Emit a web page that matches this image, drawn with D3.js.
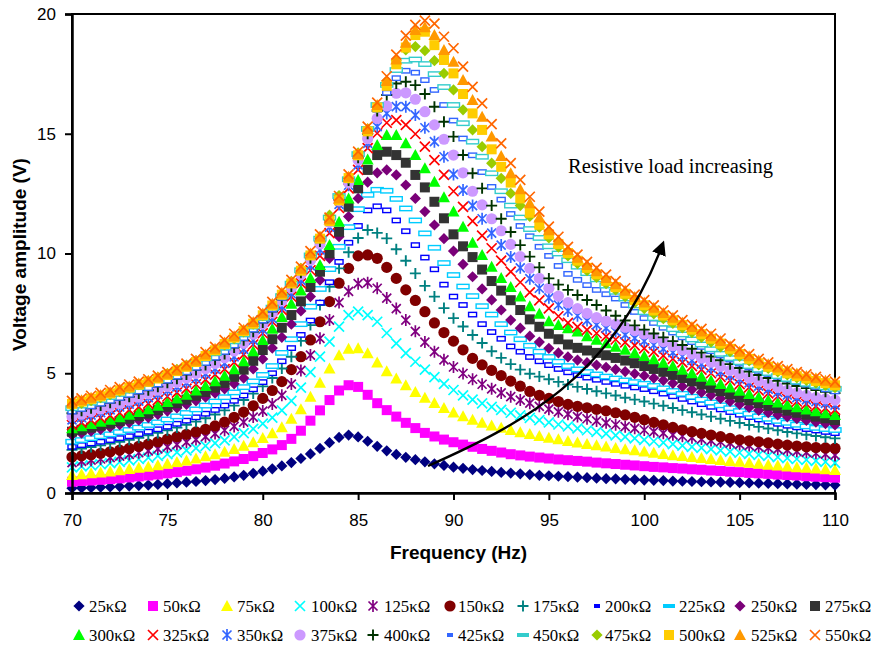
<!DOCTYPE html>
<html>
<head>
<meta charset="utf-8">
<script src="https://cdn.jsdelivr.net/npm/d3@7"></script>
<style>
  body { margin: 0; background: #fff; }
  svg { display: block; }
</style>
</head>
<body>
<div id="chart"></div>
<script>
// frequency steps (Hz), one marker every 0.5 Hz
const freqHz = [
  70,70.5,71,71.5,72,72.5,73,73.5,74,74.5,
  75,75.5,76,76.5,77,77.5,78,78.5,79,79.5,
  80,80.5,81,81.5,82,82.5,83,83.5,84,84.5,
  85,85.5,86,86.5,87,87.5,88,88.5,89,89.5,
  90,90.5,91,91.5,92,92.5,93,93.5,94,94.5,
  95,95.5,96,96.5,97,97.5,98,98.5,99,99.5,
  100,100.5,101,101.5,102,102.5,103,103.5,104,104.5,
  105,105.5,106,106.5,107,107.5,108,108.5,109,109.5,
  110];

const loadLabels = ["25κΩ","50κΩ","75κΩ","100κΩ","125κΩ","150κΩ","175κΩ","200κΩ","225κΩ","250κΩ","275κΩ",
                    "300κΩ","325κΩ","350κΩ","375κΩ","400κΩ","425κΩ","450κΩ","475κΩ","500κΩ","525κΩ","550κΩ"];

// voltage amplitude (V) per load
const v25 = [0.20,0.21,0.22,0.24,0.25,0.27,0.29,0.31,0.33,0.36, 0.39,0.42,0.45,0.48,0.52,0.56,0.61,0.67,0.74,0.82,
  0.91,1.01,1.13,1.27,1.44,1.63,1.86,2.10,2.32,2.42, 2.34,2.16,1.95,1.76,1.61,1.49,1.39,1.30,1.22,1.15,
  1.08,1.03,0.98,0.94,0.90,0.86,0.83,0.80,0.77,0.74, 0.72,0.70,0.68,0.66,0.64,0.62,0.60,0.59,0.57,0.56,
  0.54,0.53,0.52,0.50,0.49,0.48,0.47,0.46,0.45,0.44, 0.43,0.42,0.41,0.40,0.39,0.38,0.37,0.36,0.35,0.34, 0.33];
const v50 = [0.47,0.50,0.52,0.55,0.58,0.61,0.65,0.69,0.73,0.77, 0.82,0.87,0.93,0.99,1.06,1.14,1.23,1.32,1.42,1.54,
  1.67,1.82,2.00,2.26,2.60,3.02,3.45,3.88,4.28,4.50, 4.43,4.10,3.75,3.46,3.19,2.93,2.71,2.51,2.36,2.23,
  2.12,2.02,1.93,1.84,1.76,1.69,1.62,1.57,1.52,1.48, 1.44,1.40,1.37,1.34,1.31,1.27,1.24,1.21,1.18,1.15,
  1.12,1.09,1.07,1.04,1.02,0.99,0.97,0.94,0.92,0.89, 0.87,0.84,0.82,0.80,0.77,0.75,0.73,0.70,0.68,0.66, 0.64];
const v75 = [0.75,0.78,0.82,0.86,0.90,0.95,1.00,1.05,1.10,1.16, 1.22,1.29,1.36,1.44,1.53,1.62,1.72,1.84,1.97,2.12,
  2.30,2.50,2.75,3.10,3.50,4.02,4.60,5.20,5.75,6.02, 6.04,5.83,5.45,5.08,4.78,4.50,4.22,3.98,3.76,3.55,
  3.36,3.20,3.06,2.93,2.82,2.72,2.63,2.54,2.46,2.38, 2.31,2.24,2.17,2.11,2.05,1.99,1.94,1.88,1.83,1.78,
  1.73,1.68,1.63,1.58,1.54,1.50,1.46,1.42,1.38,1.34, 1.30,1.26,1.22,1.18,1.15,1.11,1.08,1.05,1.02,0.99, 0.96];
const v100 = [1.07,1.11,1.15,1.20,1.25,1.30,1.36,1.42,1.48,1.55, 1.62,1.70,1.78,1.87,1.97,2.08,2.20,2.34,2.50,2.68,
  2.90,3.15,3.45,3.85,4.40,5.05,5.69,6.32,6.95,7.43, 7.57,7.43,7.15,6.68,6.25,5.84,5.48,5.15,4.84,4.56,
  4.30,4.08,3.90,3.74,3.60,3.47,3.35,3.24,3.14,3.04, 2.95,2.86,2.78,2.70,2.62,2.55,2.48,2.41,2.34,2.28,
  2.22,2.16,2.10,2.04,1.98,1.93,1.88,1.83,1.78,1.73, 1.68,1.63,1.59,1.55,1.50,1.46,1.42,1.38,1.34,1.30, 1.26];
const v125 = [1.27,1.32,1.37,1.42,1.48,1.54,1.61,1.68,1.76,1.84, 1.93,2.02,2.12,2.23,2.35,2.48,2.62,2.78,2.96,3.17,
  3.42,3.72,4.08,4.55,5.12,5.76,6.46,7.22,7.95,8.42, 8.74,8.78,8.55,8.14,7.70,7.22,6.75,6.30,5.90,5.56,
  5.26,4.99,4.75,4.54,4.35,4.18,4.02,3.88,3.75,3.62, 3.50,3.39,3.29,3.19,3.10,3.01,2.93,2.85,2.77,2.70,
  2.63,2.56,2.50,2.43,2.37,2.31,2.25,2.19,2.14,2.08, 2.03,1.98,1.93,1.88,1.83,1.79,1.74,1.70,1.66,1.62, 1.58];
const v150 = [1.50,1.55,1.60,1.66,1.72,1.79,1.86,1.95,2.04,2.14, 2.25,2.35,2.45,2.55,2.66,2.80,2.96,3.16,3.38,3.64,
  3.95,4.28,4.65,5.15,5.69,6.39,7.15,7.99,8.76,9.38, 9.90,9.94,9.80,9.42,8.96,8.48,8.04,7.57,7.10,6.70,
  6.34,5.98,5.62,5.35,5.12,4.90,4.67,4.46,4.24,4.08, 3.95,3.82,3.70,3.62,3.56,3.49,3.43,3.35,3.26,3.16,
  3.06,2.95,2.85,2.74,2.64,2.56,2.49,2.42,2.35,2.28, 2.22,2.18,2.14,2.09,2.04,2.00,1.96,1.93,1.90,1.88, 1.87];
const v175 = [1.80,1.86,1.92,1.99,2.06,2.14,2.22,2.31,2.41,2.51, 2.62,2.73,2.85,2.98,3.12,3.28,3.45,3.65,3.88,4.15,
  4.45,4.80,5.20,5.69,6.35,7.01,7.85,8.61,9.38,10.05, 10.65,10.98,10.86,10.63,10.18,9.70,9.17,8.65,8.20,7.72,
  7.30,6.95,6.60,6.26,5.92,5.64,5.38,5.15,4.98,4.86, 4.75,4.64,4.53,4.43,4.34,4.25,4.16,4.07,3.98,3.90,
  3.82,3.73,3.64,3.55,3.46,3.37,3.28,3.19,3.10,3.01, 2.92,2.84,2.76,2.69,2.62,2.55,2.49,2.43,2.38,2.33, 2.28];
const v200 = [1.93,2.00,2.07,2.14,2.21,2.29,2.37,2.46,2.56,2.66, 2.77,2.89,3.02,3.16,3.31,3.47,3.65,3.85,4.07,4.33,
  4.63,5.00,5.50,6.05,6.60,7.20,7.95,8.80,9.65,10.45, 11.15,11.80,11.97,11.80,11.38,10.93,10.35,9.83,9.34,8.70,
  8.20,7.85,7.45,7.05,6.72,6.44,6.12,5.90,5.68,5.50, 5.34,5.18,5.04,4.92,4.82,4.73,4.64,4.56,4.48,4.41,
  4.34,4.25,4.15,4.04,3.93,3.82,3.71,3.60,3.49,3.38, 3.27,3.17,3.07,2.98,2.89,2.81,2.74,2.67,2.61,2.55, 2.50];
const v225 = [2.14,2.21,2.29,2.37,2.45,2.54,2.63,2.73,2.84,2.95, 3.07,3.20,3.34,3.49,3.65,3.82,4.00,4.20,4.42,4.66,
  4.93,5.30,5.85,6.42,7.05,7.78,8.52,9.35,10.28,11.10, 11.85,12.45,12.66,12.62,12.28,11.88,11.38,10.84,10.24,9.60,
  9.10,8.62,8.22,7.80,7.45,7.05,6.70,6.42,6.15,5.90, 5.68,5.48,5.30,5.16,5.05,4.95,4.86,4.78,4.70,4.63,
  4.56,4.47,4.37,4.26,4.14,4.02,3.90,3.78,3.66,3.54, 3.42,3.31,3.20,3.10,3.01,2.93,2.85,2.78,2.72,2.67, 2.63];
const v250 = [2.42,2.50,2.58,2.66,2.75,2.85,2.94,3.04,3.15,3.28, 3.42,3.55,3.70,3.85,4.00,4.17,4.35,4.56,4.80,5.18,
  5.60,6.05,6.50,7.05,7.60,8.20,8.89,9.80,10.70,11.54, 12.30,12.98,13.37,13.49,13.28,12.86,12.30,11.75,11.19,10.62,
  10.10,9.55,9.03,8.52,8.06,7.64,7.22,6.88,6.55,6.30, 6.04,5.85,5.68,5.55,5.44,5.34,5.25,5.16,5.07,4.98,
  4.90,4.80,4.70,4.58,4.45,4.32,4.20,4.08,3.95,3.82, 3.70,3.57,3.45,3.35,3.26,3.18,3.10,3.03,2.96,2.90, 2.84];
const v275 = [2.56,2.64,2.73,2.81,2.90,3.00,3.10,3.21,3.32,3.46, 3.60,3.75,3.90,4.06,4.22,4.40,4.60,4.85,5.15,5.52,
  5.97,6.42,6.90,7.43,8.00,8.60,9.24,10.01,10.91,11.95, 12.72,13.49,14.11,14.25,14.11,13.79,13.28,12.76,12.16,11.47,
  10.80,10.30,9.85,9.33,8.85,8.45,8.05,7.64,7.25,6.94, 6.65,6.42,6.20,6.06,5.95,5.85,5.75,5.64,5.53,5.42,
  5.30,5.18,5.06,4.93,4.80,4.66,4.53,4.39,4.25,4.12, 3.99,3.87,3.75,3.64,3.54,3.44,3.35,3.27,3.19,3.12, 3.05];
const v300 = [2.70,2.79,2.88,2.97,3.06,3.16,3.27,3.38,3.50,3.64, 3.80,3.95,4.10,4.28,4.47,4.67,4.90,5.17,5.50,5.92,
  6.39,6.86,7.35,7.90,8.45,8.98,9.52,10.35,11.33,12.30, 13.07,13.93,14.53,14.95,14.95,14.60,14.11,13.56,13.00,12.35,
  11.75,11.12,10.45,9.94,9.45,8.98,8.60,8.20,7.80,7.48, 7.17,7.01,6.88,6.74,6.55,6.40,6.25,6.11,5.98,5.85,
  5.72,5.58,5.44,5.30,5.15,5.00,4.85,4.70,4.55,4.41, 4.27,4.13,4.00,3.88,3.78,3.68,3.58,3.49,3.41,3.33, 3.26];
const v325 = [2.84,2.94,3.04,3.14,3.24,3.35,3.47,3.60,3.73,3.88, 4.03,4.19,4.36,4.54,4.73,4.94,5.17,5.45,5.78,6.20,
  6.67,7.15,7.65,8.20,8.75,9.30,9.90,10.85,11.90,12.72, 13.49,14.40,15.02,15.46,15.57,15.37,14.99,14.46,13.90,13.28,
  12.60,11.95,11.35,10.75,10.22,9.70,9.24,8.80,8.38,8.04, 7.71,7.38,7.10,6.94,6.81,6.67,6.54,6.41,6.29,6.16,
  6.04,5.89,5.74,5.60,5.45,5.30,5.15,5.00,4.85,4.70, 4.55,4.41,4.28,4.16,4.04,3.93,3.82,3.72,3.63,3.55, 3.47];
const v350 = [3.05,3.15,3.25,3.36,3.47,3.59,3.71,3.84,3.98,4.12, 4.27,4.43,4.60,4.78,4.97,5.18,5.41,5.68,6.00,6.38,
  6.82,7.28,7.78,8.32,8.88,9.48,10.15,11.10,12.05,12.85, 13.70,14.60,15.30,15.85,16.13,16.13,15.78,15.25,14.67,14.04,
  13.30,12.65,12.00,11.45,10.85,10.35,9.85,9.40,8.95,8.55, 8.15,7.85,7.60,7.40,7.20,7.02,6.88,6.74,6.60,6.47,
  6.34,6.18,6.02,5.86,5.70,5.54,5.38,5.22,5.06,4.90, 4.75,4.60,4.46,4.33,4.20,4.09,3.98,3.89,3.81,3.74, 3.67];
const v375 = [3.19,3.29,3.40,3.51,3.62,3.74,3.87,4.00,4.14,4.29, 4.45,4.62,4.80,4.99,5.19,5.41,5.65,5.93,6.25,6.63,
  7.05,7.52,8.02,8.56,9.12,9.72,10.40,11.30,12.20,12.95, 13.90,14.80,15.64,16.16,16.69,16.71,16.44,15.92,15.37,14.77,
  14.11,13.37,12.60,12.03,11.45,10.95,10.38,9.87,9.38,8.96, 8.55,8.22,7.95,7.70,7.50,7.32,7.18,7.05,6.92,6.78,
  6.64,6.48,6.32,6.15,5.98,5.80,5.63,5.46,5.29,5.12, 4.96,4.81,4.67,4.54,4.41,4.29,4.18,4.08,3.99,3.93, 3.88];
const v400 = [3.33,3.43,3.54,3.65,3.77,3.89,4.02,4.15,4.29,4.44, 4.60,4.77,4.95,5.14,5.34,5.56,5.80,6.07,6.38,6.73,
  7.12,7.58,8.08,8.62,9.20,9.80,10.50,11.40,12.25,13.05, 14.00,15.00,15.95,16.62,17.10,17.17,17.03,16.66,16.13,15.50,
  14.88,14.11,13.35,12.72,12.00,11.45,10.90,10.35,9.87,9.42, 8.96,8.70,8.48,8.27,8.06,7.85,7.62,7.40,7.20,7.00,
  6.82,6.66,6.50,6.34,6.18,6.02,5.86,5.70,5.54,5.38, 5.22,5.07,4.93,4.80,4.68,4.57,4.47,4.38,4.30,4.23, 4.17];
const v425 = [3.40,3.51,3.62,3.73,3.85,3.97,4.10,4.24,4.38,4.53, 4.69,4.86,5.04,5.23,5.43,5.65,5.89,6.16,6.47,6.82,
  7.20,7.66,8.15,8.68,9.25,9.86,10.55,11.45,12.30,13.10, 14.05,15.05,16.00,16.71,17.32,17.63,17.55,17.24,16.83,16.20,
  15.55,14.80,14.10,13.40,12.78,12.25,11.65,11.15,10.72,10.28, 9.90,9.48,9.15,8.90,8.68,8.48,8.30,8.12,7.85,7.56,
  7.30,7.10,6.90,6.70,6.50,6.30,6.10,5.92,5.74,5.57, 5.40,5.24,5.10,4.97,4.85,4.74,4.63,4.53,4.43,4.33, 4.24];
const v450 = [3.54,3.65,3.77,3.89,4.01,4.14,4.28,4.42,4.57,4.72, 4.88,5.05,5.23,5.42,5.62,5.84,6.07,6.33,6.62,6.95,
  7.30,7.74,8.22,8.74,9.30,9.92,10.62,11.50,12.40,13.10, 14.15,15.20,16.20,17.04,17.66,18.05,18.10,17.91,17.49,16.95,
  16.20,15.44,14.67,14.04,13.35,12.60,12.00,11.50,11.02,10.65, 10.30,10.00,9.72,9.45,9.18,8.92,8.66,8.40,8.12,7.83,
  7.55,7.30,7.07,6.84,6.62,6.41,6.20,6.00,5.81,5.63, 5.46,5.30,5.15,5.01,4.88,4.76,4.65,4.56,4.48,4.41, 4.35];
const v475 = [3.63,3.74,3.86,3.98,4.11,4.24,4.38,4.52,4.67,4.83, 4.99,5.16,5.34,5.53,5.73,5.95,6.18,6.44,6.73,7.05,
  7.40,7.84,8.32,8.84,9.38,9.98,10.70,11.60,12.42,13.15, 14.20,15.20,16.10,17.20,18.05,18.50,18.64,18.47,18.05,17.52,
  16.83,16.00,15.16,14.46,13.77,13.14,12.51,12.00,11.55,11.10, 10.65,10.27,9.90,9.58,9.28,9.00,8.74,8.48,8.20,7.94,
  7.70,7.48,7.28,7.08,6.89,6.70,6.50,6.30,6.10,5.90, 5.70,5.52,5.35,5.20,5.06,4.93,4.81,4.70,4.59,4.49, 4.40];
const v500 = [3.72,3.82,3.93,4.04,4.16,4.28,4.40,4.52,4.64,4.78, 4.93,5.09,5.27,5.47,5.72,5.96,6.22,6.49,6.76,7.07,
  7.42,7.83,8.28,8.75,9.28,9.92,10.62,11.35,12.22,13.15, 14.10,15.10,16.10,17.00,17.90,18.60,19.12,19.26,18.70,18.08,
  17.52,16.66,15.85,15.16,14.35,13.62,12.96,12.30,11.70,11.20, 10.80,10.40,10.02,9.70,9.40,9.13,8.86,8.60,8.32,8.06,
  7.84,7.62,7.41,7.21,7.01,6.82,6.63,6.44,6.24,6.02, 5.80,5.60,5.42,5.27,5.13,5.00,4.88,4.78,4.68,4.59, 4.50];
const v525 = [3.77,3.87,3.98,4.09,4.21,4.33,4.45,4.57,4.69,4.83, 4.98,5.14,5.32,5.52,5.78,6.02,6.28,6.55,6.82,7.14,
  7.50,7.90,8.36,8.82,9.36,10.00,10.70,11.42,12.30,13.20, 14.15,15.20,16.20,17.20,18.10,18.80,19.33,19.45,19.12,18.50,
  18.01,17.24,16.41,15.71,14.88,14.07,13.35,12.68,12.10,11.50, 10.97,10.55,10.15,9.82,9.52,9.26,8.98,8.72,8.44,8.18,
  7.95,7.73,7.52,7.32,7.12,6.93,6.74,6.55,6.35,6.13, 5.90,5.71,5.53,5.38,5.24,5.11,4.99,4.89,4.79,4.69, 4.60];
const v550 = [3.85,3.95,4.06,4.18,4.30,4.42,4.53,4.65,4.75,4.90, 5.05,5.20,5.40,5.60,5.88,6.10,6.38,6.65,6.90,7.22,
  7.57,7.98,8.45,8.90,9.45,10.10,10.80,11.50,12.40,13.30, 14.25,15.30,16.30,17.40,18.30,19.10,19.55,19.72,19.60,19.05,
  18.57,17.80,16.96,16.27,15.40,14.60,13.77,13.07,12.37,11.75, 11.12,10.70,10.28,9.95,9.65,9.40,9.12,8.85,8.55,8.28,
  8.05,7.83,7.62,7.42,7.22,7.03,6.85,6.65,6.45,6.22, 6.00,5.80,5.60,5.45,5.30,5.17,5.05,4.95,4.85,4.75, 4.65];

const seriesValues = [v25,v50,v75,v100,v125,v150,v175,v200,v225,v250,v275,
                      v300,v325,v350,v375,v400,v425,v450,v475,v500,v525,v550];

const xTicks = [70,75,80,85,90,95,100,105,110];
const yTicks = [0,5,10,15,20];

seriesValues.forEach((s, i) => {
  if (s.length !== freqHz.length) throw new Error(loadLabels[i] + " has " + s.length + " values");
});

// marker look for each load (Excel-like defaults)
const markerStyle = [
  {shape:"diamond", color:"#000080"}, {shape:"square", color:"#ff00ff"}, {shape:"triangle", color:"#ffff00"},
  {shape:"x", color:"#00ffff"}, {shape:"star", color:"#800080"}, {shape:"circle", color:"#800000"},
  {shape:"plus", color:"#008080"}, {shape:"dash", color:"#0000ff"}, {shape:"longdash", color:"#00ccff"},
  {shape:"diamond", color:"#7a0078"}, {shape:"square", color:"#333333"},
  {shape:"triangle", color:"#00ff00"}, {shape:"x", color:"#ff0000"}, {shape:"star", color:"#3366ff"},
  {shape:"circle", color:"#cc99ff"}, {shape:"plus", color:"#003300"}, {shape:"dash", color:"#3366ff"},
  {shape:"longdash", color:"#33cccc"}, {shape:"diamond", color:"#99cc00"}, {shape:"square", color:"#ffcc00"},
  {shape:"triangle", color:"#ff9900"}, {shape:"x", color:"#ff6600"}
];

const width = 877, height = 647;
const plot = {left: 72, right: 835, top: 14, bottom: 493};

const x = d3.scaleLinear().domain([70, 110]).range([plot.left, plot.right]);
const y = d3.scaleLinear().domain([0, 20]).range([plot.bottom, plot.top]);

const svg = d3.select("#chart").append("svg")
  .attr("width", width).attr("height", height);

// legend = solid, thinner version of the dash markers
function drawMarker(g, shape, color, legend) {
  switch (shape) {
    case "diamond":
      g.append("path").attr("d", "M0,-5.6L5.6,0L0,5.6L-5.6,0Z").attr("fill", color); break;
    case "square":
      g.append("rect").attr("x", -5).attr("y", -5).attr("width", 10).attr("height", 10).attr("fill", color); break;
    case "triangle":
      g.append("path").attr("d", "M0,-6L6,5L-6,5Z").attr("fill", color); break;
    case "circle":
      g.append("circle").attr("r", 5.6).attr("fill", color); break;
    case "x":
      g.append("path").attr("d", "M-5,-5L5,5M5,-5L-5,5")
        .attr("stroke", color).attr("stroke-width", 1.7).attr("fill", "none"); break;
    case "star":
      g.append("path").attr("d", "M-4.5,-4.5L4.5,4.5M4.5,-4.5L-4.5,4.5M0,-6L0,6")
        .attr("stroke", color).attr("stroke-width", 1.7).attr("fill", "none"); break;
    case "plus":
      g.append("path").attr("d", "M-5.5,0L5.5,0M0,-5.5L0,5.5")
        .attr("stroke", color).attr("stroke-width", 1.9).attr("fill", "none"); break;
    case "dash":
      if (legend) g.append("rect").attr("x", -3).attr("y", -2).attr("width", 6).attr("height", 4).attr("fill", color);
      else g.append("rect").attr("x", -4).attr("y", -2.2).attr("width", 8).attr("height", 4.4)
        .attr("fill", "#fff").attr("stroke", color).attr("stroke-width", 1.4);
      break;
    case "longdash":
      if (legend) g.append("rect").attr("x", -6).attr("y", -2).attr("width", 12).attr("height", 4).attr("fill", color);
      else g.append("rect").attr("x", -6).attr("y", -2.2).attr("width", 12).attr("height", 4.4)
        .attr("fill", "#fff").attr("stroke", color).attr("stroke-width", 1.4);
      break;
  }
}

// axis frame
svg.append("rect")
  .attr("x", plot.left).attr("y", plot.top)
  .attr("width", plot.right - plot.left).attr("height", plot.bottom - plot.top)
  .attr("fill", "none").attr("stroke", "#000").attr("stroke-width", 2);

// series markers, later loads on top
seriesValues.forEach((vals, i) => {
  const st = markerStyle[i];
  const g = svg.append("g").attr("class", "series");
  freqHz.forEach((f, j) => {
    const m = g.append("g").attr("transform", `translate(${x(f)},${y(vals[j])})`);
    drawMarker(m, st.shape, st.color, false);
  });
});

// axes
const xAxis = svg.append("g")
  .attr("transform", `translate(0,${plot.bottom})`)
  .call(d3.axisBottom(x).tickValues(xTicks).tickSize(7).tickPadding(14));
const yAxis = svg.append("g")
  .attr("transform", `translate(${plot.left},0)`)
  .call(d3.axisLeft(y).tickValues(yTicks).tickSize(7).tickPadding(9));
[xAxis, yAxis].forEach(a => {
  a.select(".domain").attr("stroke", "#000").attr("stroke-width", 2.5);
  a.selectAll(".tick line").attr("stroke", "#000").attr("stroke-width", 2);
  a.selectAll(".tick text").attr("fill", "#000")
    .style("font-family", "'Liberation Sans', Arial, sans-serif").style("font-size", "17px");
});

svg.append("text")
  .attr("x", (plot.left + plot.right) / 2 + 5).attr("y", 559)
  .attr("text-anchor", "middle")
  .style("font-family", "'Liberation Sans', Arial, sans-serif")
  .style("font-size", "19px").style("font-weight", "bold")
  .text("Frequency (Hz)");

svg.append("text")
  .attr("transform", `translate(26,${(plot.top + plot.bottom) / 2 + 1}) rotate(-90)`)
  .attr("text-anchor", "middle")
  .style("font-family", "'Liberation Sans', Arial, sans-serif")
  .style("font-size", "19px").style("font-weight", "bold")
  .text("Voltage amplitude (V)");

// annotation arrow
svg.append("defs").append("marker")
  .attr("id", "arrowhead").attr("viewBox", "0 0 10 10")
  .attr("refX", 6).attr("refY", 5)
  .attr("markerWidth", 6).attr("markerHeight", 6)
  .attr("orient", "auto")
  .append("path").attr("d", "M0,0L10,5L0,10Z").attr("fill", "#000");

svg.append("path")
  .attr("d", "M428,466 C520,425 612,378 662,246")
  .attr("fill", "none").attr("stroke", "#000").attr("stroke-width", 2.4)
  .attr("marker-end", "url(#arrowhead)");

svg.append("text")
  .attr("x", 568).attr("y", 173)
  .style("font-family", "'Liberation Serif', 'Times New Roman', serif")
  .style("font-size", "20.5px")
  .text("Resistive load increasing");

// legend: two rows of eleven
const legendMarkerX = [79,153,227,300,373,450,523,597,669,740,815];
const legendTextX = [89,163,237,311,384,458,533,605,679,751,825];
const legendRowY = [606, 635];
loadLabels.forEach((lab, i) => {
  const row = Math.floor(i / 11), col = i % 11;
  const st = markerStyle[i];
  const m = svg.append("g").attr("transform", `translate(${legendMarkerX[col]},${legendRowY[row]})`);
  drawMarker(m, st.shape, st.color, true);
  svg.append("text")
    .attr("x", legendTextX[col]).attr("y", legendRowY[row])
    .attr("dominant-baseline", "central")
    .style("font-family", "'Liberation Serif', 'Times New Roman', serif")
    .style("font-size", "16.8px")
    .text(lab);
});
</script>
</body>
</html>
